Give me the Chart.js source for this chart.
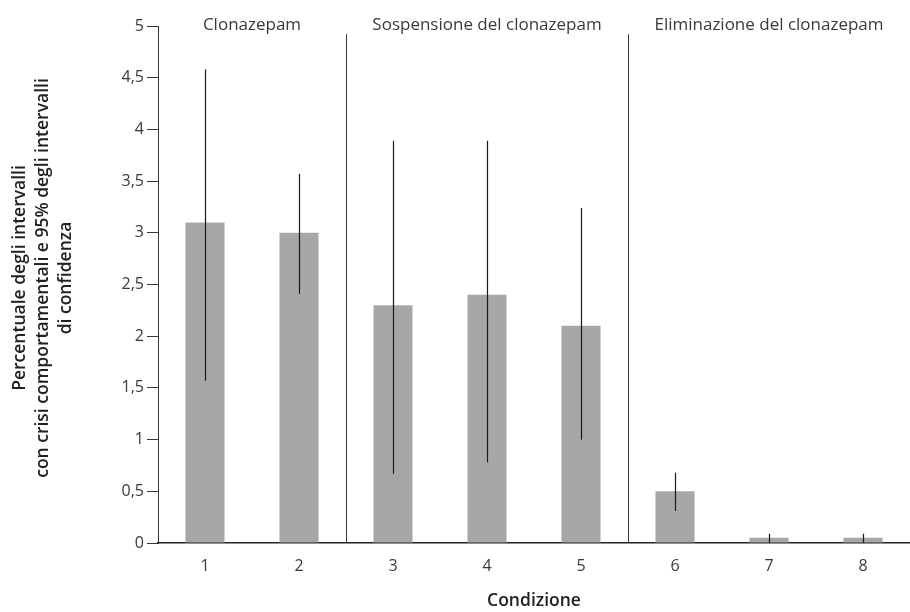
<!DOCTYPE html>
<html><head><meta charset="utf-8">
<script src="https://cdn.jsdelivr.net/npm/chart.js@4/dist/chart.umd.min.js"></script>
<style>html,body{margin:0;padding:0;background:#fff}#wrap{width:910px;height:612px}</style>
</head><body><div id="wrap"><canvas id="c" width="910" height="612"></canvas></div>
<script>
const categories = ['1','2','3','4','5','6','7','8'];
const values = [3.1, 3.0, 2.3, 2.4, 2.1, 0.5, 0.05, 0.05];
const ciLow = [1.57, 2.41, 0.67, 0.78, 1.0, 0.31, 0, 0];
const ciHigh = [4.58, 3.57, 3.89, 3.89, 3.24, 0.68, 0.09, 0.09];
const yTicks = [0, 0.5, 1, 1.5, 2, 2.5, 3, 3.5, 4, 4.5, 5];
const sectionLabels = ['Clonazepam', 'Sospensione del clonazepam', 'Eliminazione del clonazepam'];
const sectionCenters = [0.5, 3, 6];
const separators = [1.5, 4.5];
const yTitleLines = ['Percentuale degli intervalli', 'con crisi comportamentali e 95% degli intervalli', 'di confidenza'];

const FONT = '"Open Sans", "Noto Sans", sans-serif';
const TXT = '#3a3a3a';

const overlay = {
  id: 'overlay',
  afterDatasetsDraw(chart) {
    const {ctx, scales: {x, y}} = chart;
    ctx.save();
    ctx.strokeStyle = '#1a1a1a';
    ctx.lineWidth = 1.2;
    values.forEach((v, i) => {
      const px = Math.round(x.getPixelForValue(i)) + 0.5;
      ctx.beginPath();
      ctx.moveTo(px, y.getPixelForValue(ciLow[i]));
      ctx.lineTo(px, y.getPixelForValue(ciHigh[i]));
      ctx.stroke();
    });
    ctx.strokeStyle = '#333';
    ctx.lineWidth = 1;
    separators.forEach(s => {
      const px = Math.round((x.getPixelForValue(Math.floor(s)) + x.getPixelForValue(Math.ceil(s))) / 2) + 0.5;
      ctx.beginPath();
      ctx.moveTo(px, y.getPixelForValue(4.92));
      ctx.lineTo(px, y.getPixelForValue(0));
      ctx.stroke();
    });
    ctx.fillStyle = TXT;
    ctx.font = '17px ' + FONT;
    ctx.textAlign = 'center';
    ctx.textBaseline = 'middle';
    sectionLabels.forEach((t, i) => {
      const c = sectionCenters[i];
      const px = (x.getPixelForValue(Math.floor(c)) + x.getPixelForValue(Math.ceil(c))) / 2;
      ctx.fillText(t, px, y.getPixelForValue(5) - 1);
    });
    ctx.font = '600 17.5px ' + FONT;
    ctx.fillStyle = '#222';
    ctx.translate(0, 278);
    ctx.rotate(-Math.PI / 2);
    yTitleLines.forEach((t, i) => {
      ctx.fillText(t, 0, 20 + i * 23);
    });
    ctx.restore();
  }
};

new Chart(document.getElementById('c'), {
  type: 'bar',
  data: {
    labels: categories,
    datasets: [{
      data: values,
      backgroundColor: '#a7a7aa',
      borderWidth: 0,
      barPercentage: 0.415,
      categoryPercentage: 1
    }]
  },
  options: {
    responsive: false,
    animation: false,
    events: [],
    layout: {padding: {top: 26, right: -4, left: 0, bottom: 0}},
    plugins: {legend: {display: false}, tooltip: {enabled: false}},
    scales: {
      x: {
        grid: {display: false, drawTicks: false},
        border: {display: true, color: '#222', width: 1.5},
        ticks: {color: TXT, font: {size: 16, family: FONT}, padding: 14},
        title: {display: true, text: 'Condizione', color: '#222', font: {size: 17.5, weight: '600', family: FONT}, padding: {top: 10, bottom: 0}},
        afterFit(s) { s.height = 69; }
      },
      y: {
        min: 0, max: 5,
        afterBuildTicks(s) { s.ticks = yTicks.map(v => ({value: v})); },
        grid: {drawOnChartArea: false, drawTicks: true, tickLength: 11, color: '#333', tickWidth: 1},
        border: {display: true, color: '#333', width: 1},
        ticks: {color: TXT, font: {size: 16, family: FONT}, padding: 3,
          callback: v => String(v).replace('.', ',')},
        afterFit(s) { s.width = 158; }
      }
    }
  },
  plugins: [overlay]
});
</script>
</body></html>
